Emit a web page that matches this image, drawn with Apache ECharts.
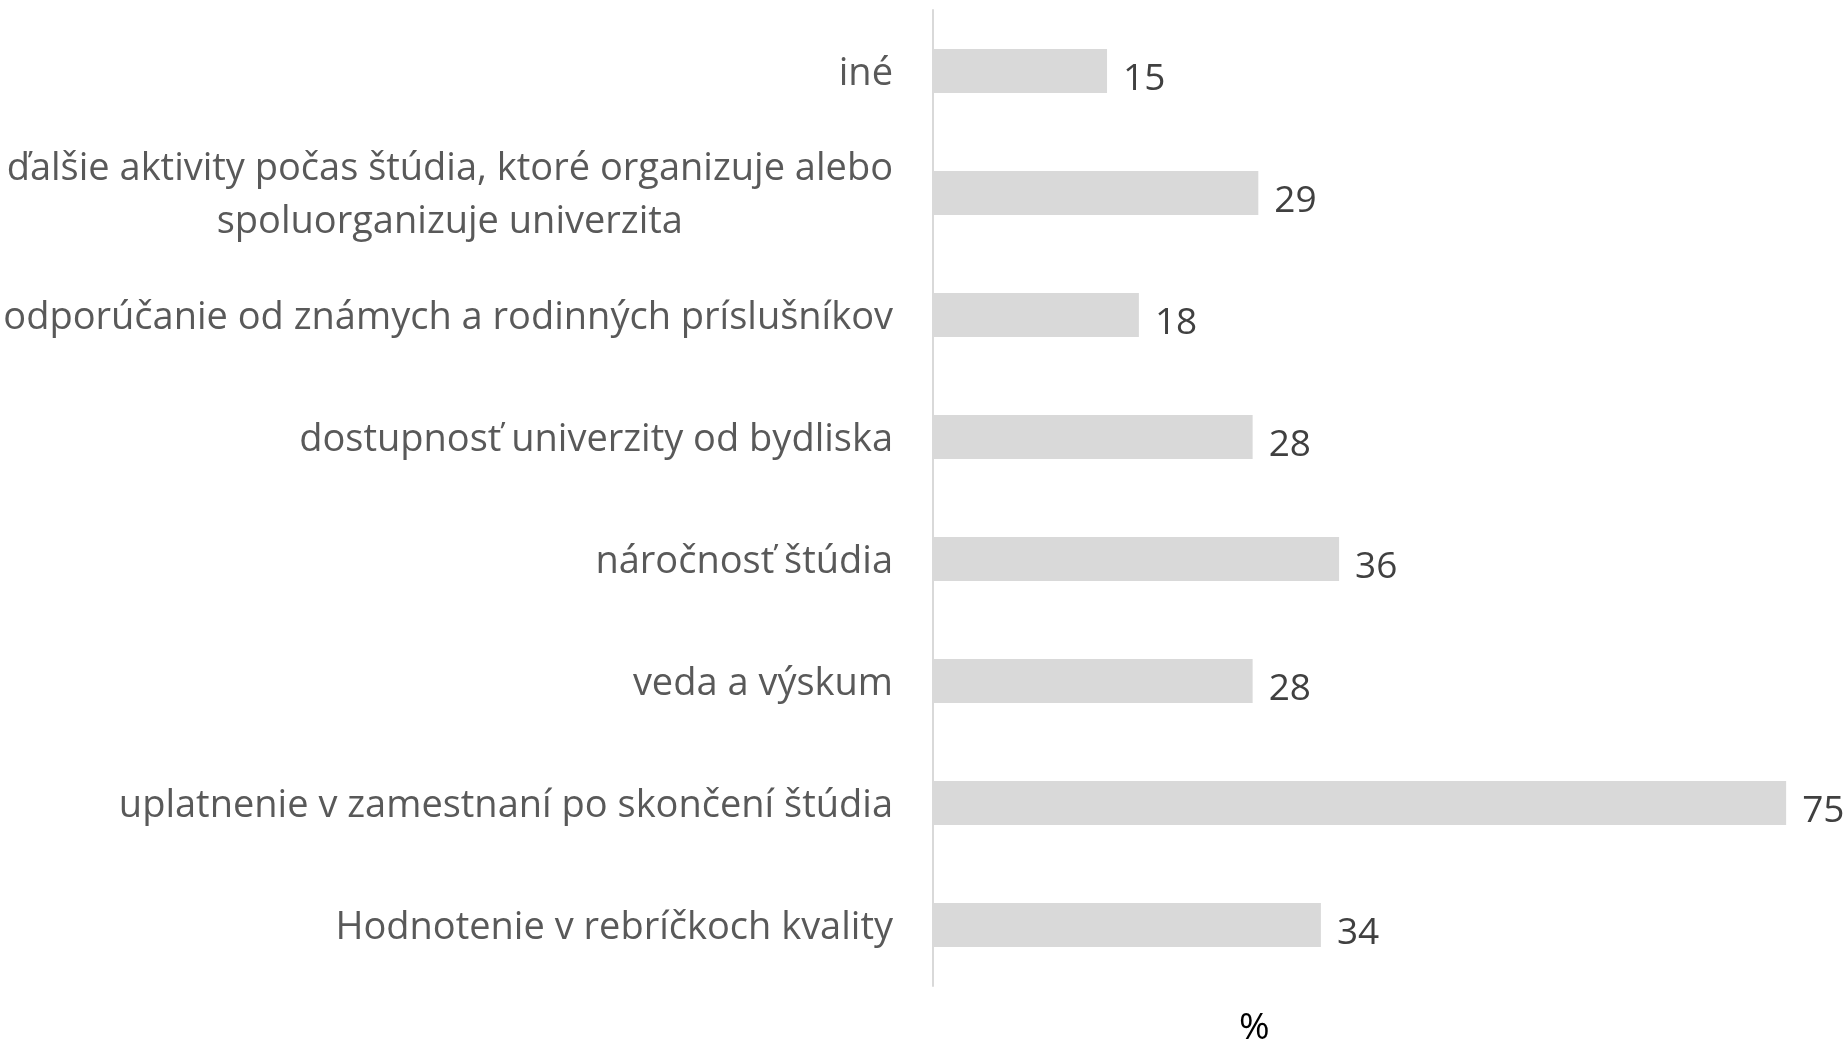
<!DOCTYPE html>
<html>
<head>
<meta charset="utf-8">
<script src="https://cdn.jsdelivr.net/npm/echarts@6/dist/echarts.min.js"></script>
<style>
html,body{margin:0;padding:0;background:#fff;}
#chart{width:1845px;height:1041px;}
</style>
</head>
<body>
<div id="chart"></div>
<script>
// Categories, top to bottom
const categories = [
  "iné",
  "ďalšie aktivity počas štúdia, ktoré organizuje alebo\nspoluorganizuje univerzita",
  "odporúčanie od známych a rodinných príslušníkov",
  "dostupnosť univerzity od bydliska",
  "náročnosť štúdia",
  "veda a výskum",
  "uplatnenie v zamestnaní po skončení štúdia",
  "Hodnotenie v rebríčkoch kvality"
];
// Percent values
const values = [15.3, 28.6, 18.1, 28.1, 35.7, 28.1, 75.0, 34.1];
const axisName = "%";

const FONT = "'Open Sans', 'Noto Sans', sans-serif";
const chart = echarts.init(document.getElementById('chart'), null, {renderer: 'canvas'});
chart.setOption({
  animation: false,
  backgroundColor: '#ffffff',
  title: {
    text: axisName,
    left: 1234,
    top: 1005,
    textStyle: {fontFamily: FONT, fontSize: 37, fontWeight: 'normal', color: '#000000'}
  },
  grid: {left: 933, right: 2, top: 10, bottom: 55, containLabel: false},
  xAxis: {
    type: 'value',
    min: 0,
    max: 80,
    axisLine: {show: false},
    axisTick: {show: false},
    axisLabel: {show: false},
    splitLine: {show: false}
  },
  yAxis: {
    type: 'category',
    inverse: true,
    data: categories,
    axisLine: {show: true, lineStyle: {color: '#d9d9d9', width: 2}},
    axisTick: {show: false},
    axisLabel: {
      margin: 40,
      align: 'right',
      padding: [6, 0, 0, 0],
      formatter: function (v) {
        return v.split('\n').map(function (l) { return '{c|' + l + '}'; }).join('\n');
      },
      rich: {
        c: {fontFamily: FONT, fontSize: 38, color: '#595959', align: 'center', lineHeight: 53}
      }
    }
  },
  series: [{
    type: 'bar',
    data: values,
    barCategoryGap: '64%',
    itemStyle: {color: '#d9d9d9'},
    label: {
      show: true,
      position: 'right',
      distance: 16,
      offset: [0, 8],
      fontFamily: FONT,
      fontSize: 37,
      color: '#404040',
      formatter: function (p) { return Math.round(p.value); }
    }
  }]
});
</script>
</body>
</html>
